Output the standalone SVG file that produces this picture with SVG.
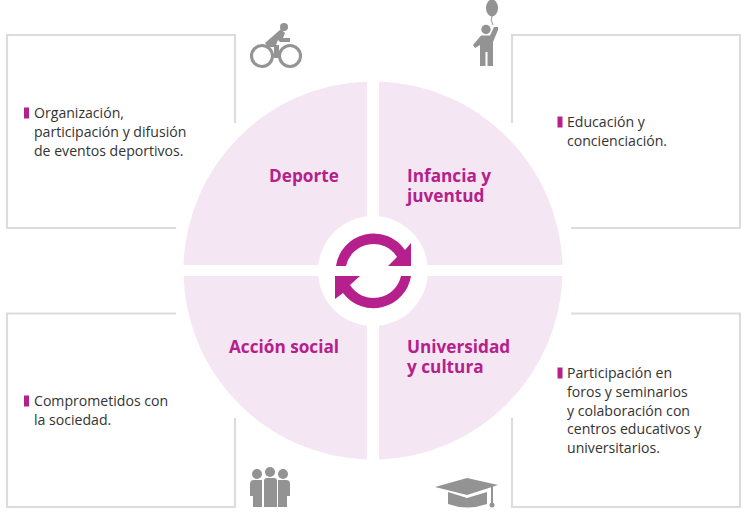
<svg xmlns="http://www.w3.org/2000/svg" width="745" height="512" viewBox="0 0 745 512">
<style>
text{font-family:"Open Sans","Noto Sans","Liberation Sans",sans-serif}
.b{font-size:14.1px;fill:#333}
.h{font-size:17.2px;font-weight:700;fill:#b5208c}
.box{fill:none;stroke:#dcdcdc;stroke-width:2.2}
.q{fill:#f4e6f2}
.i{fill:#939393}
.il{fill:none;stroke:#939393}
.bu{fill:#b5208c}
</style>
<rect width="745" height="512" fill="#fff"/>
<g id="box-deporte"><path class="box" d="M176 228H7V35H235V123"/><rect class="bu" x="24" y="107.500" width="5" height="11"/><text class="b"><tspan x="34" y="118">Organización,</tspan><tspan x="34" y="137">participación y difusión</tspan><tspan x="34" y="155.500">de eventos deportivos.</tspan></text></g>
<g id="box-infancia"><path class="box" d="M512 123V35H740V228H571"/><rect class="bu" x="557.500" y="116.500" width="5" height="11"/><text class="b"><tspan x="567" y="127">Educación y</tspan><tspan x="567" y="146">concienciación.</tspan></text></g>
<g id="box-accion"><path class="box" d="M176 313.500H7V507H235V418"/><rect class="bu" x="24" y="395.500" width="5" height="11"/><text class="b"><tspan x="34" y="406">Comprometidos con</tspan><tspan x="34" y="424.500">la sociedad.</tspan></text></g>
<g id="box-universidad"><path class="box" d="M512 418V507H740V313.500H571"/><rect class="bu" x="557.500" y="367.500" width="5" height="11"/><text class="b"><tspan x="567" y="378">Participación en</tspan><tspan x="567" y="397">foros y seminarios</tspan><tspan x="567" y="415.500">y colaboración con</tspan><tspan x="567" y="434">centros educativos y</tspan><tspan x="567" y="453">universitarios.</tspan></text></g>
<g id="node-deporte"><path class="q" d="M367 265V81.500A190 190 0 0 0 183.500 265Z"/><text class="h" x="269" y="182">Deporte</text></g>
<g id="node-infancia"><path class="q" d="M379 265V81.500A190 190 0 0 1 562.500 265Z"/><text class="h"><tspan x="407" y="182">Infancia y</tspan><tspan x="407" y="202">juventud</tspan></text></g>
<g id="node-accion"><path class="q" d="M367 276V459.500A190 190 0 0 1 183.500 276Z"/><text class="h" x="229" y="353">Acción social</text></g>
<g id="node-universidad"><path class="q" d="M379 276V459.500A190 190 0 0 0 562.500 276Z"/><text class="h"><tspan x="407" y="353">Universidad</tspan><tspan x="407" y="373">y cultura</tspan></text></g>
<g id="centre"><circle cx="373" cy="271" r="55" fill="#fff"/>
<path class="bu" d="M336 266A38 38 0 0 1 405 250L411 243V266H388L397 257A28 28 0 0 0 346 266Z"/>
<path class="bu" d="M411 276A38 38 0 0 1 343 293L335 299V276H360L350 285A28 28 0 0 0 401 276Z"/></g>
<g id="icon-bike"><circle class="il" cx="262" cy="56" r="10.500" stroke-width="3"/><circle class="il" cx="290" cy="56" r="10.500" stroke-width="3"/><circle class="i" cx="284" cy="27" r="4"/><path class="i" d="M281 29L285 33L283 38H290V42H280L278 40L276 45H279V58H274V47H268L265 43Z"/></g>
<g id="icon-child"><ellipse class="i" cx="492" cy="8" rx="6" ry="8.500"/><path class="il" d="M492 16Q490 20 493 25" stroke-width="1"/><circle class="i" cx="486" cy="29.500" r="4.700"/><path class="i" d="M481 35.500H490L494 27H498V30L493 42V66H487.500V52H485.500V66H480V45L475 48L473 45Z"/></g>
<g id="icon-people"><circle class="i" cx="257" cy="474" r="5"/><circle class="i" cx="270" cy="472" r="5"/><circle class="i" cx="283" cy="474" r="5"/><path class="i" d="M250 484Q250 480 254 480H262V507H253V496H250ZM264 481Q264 478 267 478H274Q277 478 277 481V507H264ZM278 480H286Q290 480 290 484V496H287V507H278Z"/></g>
<g id="icon-cap"><path class="i" d="M435 487L467 478L498 485L467 495Z"/><path class="i" d="M448 492L467 498L487 492V504Q467 511 448 504Z"/><path class="il" stroke-width="2" d="M492 486V503"/><circle class="i" cx="492" cy="505" r="2.500"/></g>
</svg>
